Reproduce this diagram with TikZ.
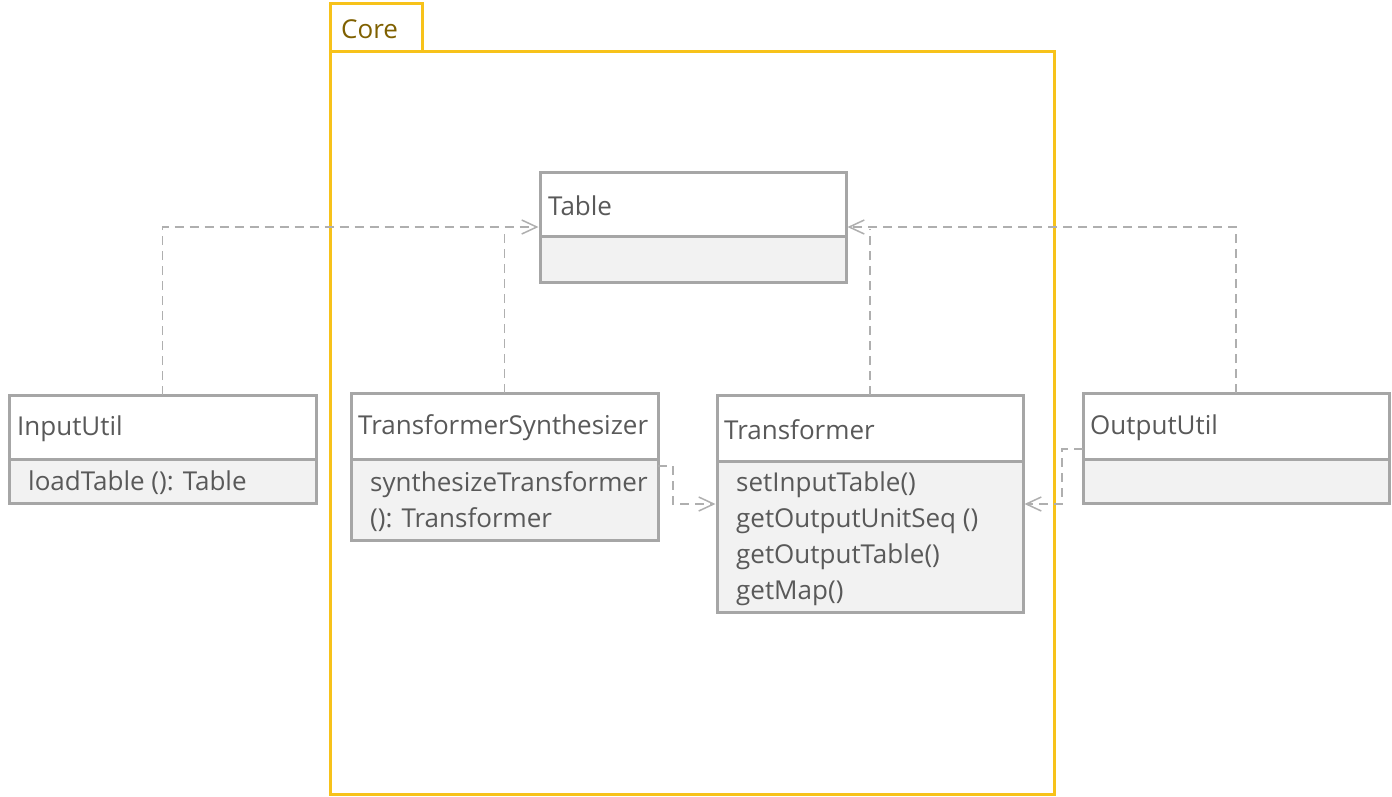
\documentclass[tikz,border=0pt]{standalone}
\usepackage{fontspec}
\setmainfont{Open Sans}
\usetikzlibrary{arrows.meta}
\definecolor{boxgray}{HTML}{A6A6A6}
\definecolor{bodyfill}{HTML}{F2F2F2}
\definecolor{txtgray}{HTML}{595959}
\definecolor{pkgyellow}{HTML}{F7C21A}
\definecolor{pkgtext}{HTML}{7F6000}
\tikzset{
  box/.style={draw=boxgray, line width=3pt, rectangle, anchor=north west, inner sep=0pt, outer sep=0pt},
  hdr/.style={box, fill=white},
  bdy/.style={box, fill=bodyfill},
  lbl/.style={anchor=west, text=txtgray, inner sep=0pt, yshift=-2pt, font=\fontsize{26}{36}\selectfont, align=left},
  dep/.style={draw=boxgray!90, line width=1.5pt, dash pattern=on 9pt off 6pt,
    -{Straight Barb[length=15pt,width=14pt]}, shorten >=1.5pt},
  pkg/.style={draw=pkgyellow, line width=3pt, rectangle, anchor=north west, inner sep=0pt, outer sep=0pt}
}
\begin{document}
\begin{tikzpicture}[x=1pt,y=-1pt]
\useasboundingbox (0,0) rectangle (1392,796);
% package
\node[pkg, minimum width=92, minimum height=48] (coreTab) at (330,3) {};
\node[pkg, minimum width=724, minimum height=743] (coreBox) at (330,51) {};
\node[lbl, text=pkgtext] (coreLbl) at ([xshift=11pt]coreTab.west) {Core};
% connectors
\coordinate (busY) at (0,227);
\coordinate (lowY) at (0,504);
\node[hdr, minimum width=306, minimum height=64] (tableH) at (540,172) {};
\node[hdr, minimum width=307, minimum height=64] (inH) at (9,395) {};
\node[hdr, minimum width=307, minimum height=66] (tsH) at (351,393) {};
\node[hdr, minimum width=306, minimum height=66] (tfH) at (717,395) {};
\node[hdr, minimum width=306, minimum height=66] (outH) at (1083,393) {};
\draw[dep] (inH.north) |- (tableH.west |- busY);
\draw[dep, -] (tsH.north) -- (tsH.north |- busY);
\draw[dep] (outH.north) |- (tableH.east |- busY);
\draw[dep, -] (tfH.north) -- (tfH.north |- busY);
% Table
\node[bdy, minimum width=306, minimum height=46] (tableB) at (tableH.south west) {};
\node[lbl] (tableL) at ([xshift=8pt]tableH.west) {Table};
% InputUtil
\node[bdy, minimum width=307, minimum height=44] (inB) at (inH.south west) {};
\node[lbl] (inL) at ([xshift=8pt]inH.west) {InputUtil};
\node[lbl] (inM) at ([xshift=19pt]inB.west) {loadTable (): Table};
% TransformerSynthesizer
\node[bdy, minimum width=307, minimum height=81] (tsB) at (tsH.south west) {};
\node[lbl] (tsL) at ([xshift=7pt]tsH.west) {TransformerSynthesizer};
\node[lbl] (tsM) at ([xshift=19pt]tsB.west) {synthesizeTransformer\\(): Transformer};
% Transformer
\node[bdy, minimum width=306, minimum height=151] (tfB) at (tfH.south west) {};
\node[lbl] (tfL) at ([xshift=7pt]tfH.west) {Transformer};
\node[lbl] (tfM) at ([xshift=19pt]tfB.west) {setInputTable()\\getOutputUnitSeq ()\\getOutputTable()\\getMap()};
% OutputUtil
\node[bdy, minimum width=306, minimum height=44] (outB) at (outH.south west) {};
\node[lbl] (outL) at ([xshift=7pt]outH.west) {OutputUtil};
% side connectors
\draw[dep] ([yshift=-7pt]tsB.north east) -- ++(15,0) |- (tfB.west |- lowY);
\draw[dep] ([yshift=10pt]outH.south west) -- ++(-21,0) |- (tfB.east |- lowY);
\end{tikzpicture}
\end{document}
